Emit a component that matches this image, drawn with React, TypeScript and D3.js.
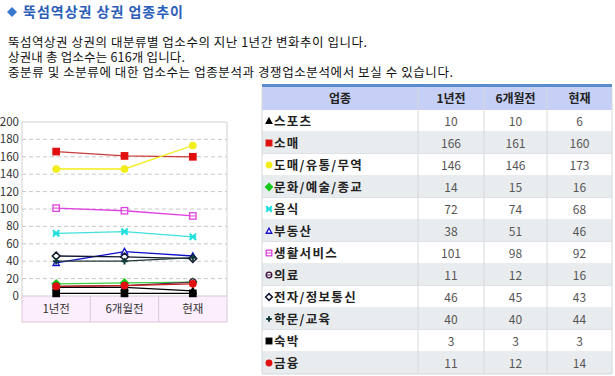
import { useEffect, useRef } from "react";
import * as d3 from "d3";

const periods = ["1년전", "6개월전", "현재"];
const categories = ["스포츠", "소매", "도매/유통/무역", "문화/예술/종교", "음식", "부동산", "생활서비스", "의료", "전자/정보통신", "학문/교육", "숙박", "금융"];
const sports = [10, 10, 6];
const retail = [166, 161, 160];
const wholesale = [146, 146, 173];
const culture = [14, 15, 16];
const food = [72, 74, 68];
const realty = [38, 51, 46];
const living = [101, 98, 92];
const medical = [11, 12, 16];
const electronics = [46, 45, 43];
const education = [40, 40, 44];
const lodging = [3, 3, 3];
const finance = [11, 12, 14];
const yTicks = [0, 20, 40, 60, 80, 100, 120, 140, 160, 180, 200];
const introLines = [
  "뚝섬역상권 상권의 대분류별 업소수의 지난 1년간 변화추이 입니다.",
  "상권내 총 업소수는 616개 입니다.",
  "중분류 및 소분류에 대한 업소수는 업종분석과 경쟁업소분석에서 보실 수 있습니다.",
];
const introWidths = [359, 177, 445];

const seriesValues = [sports, retail, wholesale, culture, food, realty, living, medical, electronics, education, lodging, finance];
const seriesStyle = [
  { color: "#000000", line: "#000000", shape: "tri" },
  { color: "#e01010", line: "#c83c3c", shape: "square" },
  { color: "#f2ee1a", line: "#f2ee1a", shape: "circle" },
  { color: "#18c818", line: "#40d040", shape: "diamond" },
  { color: "#20e0e0", line: "#40e0e0", shape: "x" },
  { color: "#1010c8", line: "#1010c8", shape: "triOpen" },
  { color: "#e040e0", line: "#e040e0", shape: "squareOpen" },
  { color: "#401040", line: "#503050", shape: "circleOpen" },
  { color: "#101830", line: "#101830", shape: "diamondOpen" },
  { color: "#103838", line: "#203838", shape: "plus" },
  { color: "#000000", line: "#000000", shape: "square" },
  { color: "#e01010", line: "#c82020", shape: "circle" },
];

const FONT = "'Noto Sans CJK KR', 'Noto Sans', sans-serif";

function drawMarker(g: any, shape: string, x: number, y: number, color: string, s: number) {
  if (shape === "tri" || shape === "triOpen") {
    g.append("path").attr("d", `M${x},${y - s}L${x + s},${y + s * 0.8}L${x - s},${y + s * 0.8}Z`)
      .attr("fill", shape === "tri" ? color : "#fff").attr("stroke", color).attr("stroke-width", 1.3);
  } else if (shape === "square" || shape === "squareOpen") {
    g.append("rect").attr("x", x - s).attr("y", y - s).attr("width", s * 2).attr("height", s * 2)
      .attr("fill", shape === "square" ? color : "#fff").attr("stroke", color).attr("stroke-width", 1.3);
    if (shape === "squareOpen") g.append("line").attr("x1", x - s).attr("x2", x + s).attr("y1", y).attr("y2", y).attr("stroke", color);
  } else if (shape === "circle" || shape === "circleOpen") {
    g.append("circle").attr("cx", x).attr("cy", y).attr("r", s)
      .attr("fill", shape === "circle" ? color : "#fff").attr("stroke", color).attr("stroke-width", 1.3);
    if (shape === "circleOpen") g.append("line").attr("x1", x - s).attr("x2", x + s).attr("y1", y).attr("y2", y).attr("stroke", color);
  } else if (shape === "diamond" || shape === "diamondOpen") {
    g.append("path").attr("d", `M${x},${y - s * 1.2}L${x + s * 1.2},${y}L${x},${y + s * 1.2}L${x - s * 1.2},${y}Z`)
      .attr("fill", shape === "diamond" ? color : "#fff").attr("stroke", color).attr("stroke-width", 1.5);
  } else if (shape === "x") {
    g.append("path").attr("d", `M${x - s},${y - s}L${x + s},${y + s}M${x + s},${y - s}L${x - s},${y + s}M${x - s},${y}L${x + s},${y}`)
      .attr("stroke", color).attr("stroke-width", 2);
  } else if (shape === "plus") {
    g.append("path").attr("d", `M${x - s},${y}L${x + s},${y}M${x},${y - s}L${x},${y + s}`)
      .attr("stroke", color).attr("stroke-width", 2);
  }
}

const App = () => {
  const svgRef = useRef<SVGSVGElement>(null);

  useEffect(() => {
    const svg = d3.select(svgRef.current);
    svg.selectAll("*").remove();
    svg.attr("width", 615).attr("height", 376).style("font-family", FONT);

    // title
    svg.append("path").attr("d", "M12,7L17,12L12,17L7,12Z").attr("fill", "#3a78d0");
    svg.append("text").attr("x", 23).attr("y", 17).attr("fill", "#2a5db8").style("font-size", "14px").style("font-weight", "bold")
      .attr("textLength", 160).attr("lengthAdjust", "spacing").text("뚝섬역상권 상권 업종추이");

    // intro paragraph as one multi-line text
    const intro = svg.append("text").attr("fill", "#111").style("font-size", "12.5px");
    introLines.forEach((t, i) => {
      intro.append("tspan").attr("x", 8).attr("y", 47 + i * 15)
        .attr("textLength", introWidths[i]).attr("lengthAdjust", "spacing").text(t);
    });

    // chart
    const left = 22, right = 227, top = 122, bottom = 296, bandBottom = 322;
    const x = d3.scaleBand().domain(periods).range([left, right]);
    const y = d3.scaleLinear().domain([0, 200]).range([bottom, top]);
    const c = svg.append("g");

    c.append("rect").attr("x", left).attr("y", bottom).attr("width", right - left).attr("height", bandBottom - bottom)
      .attr("fill", "#fdeefd").attr("stroke", "#d8c8d8");
    periods.forEach((p, i) => {
      if (i > 0) c.append("line").attr("x1", x(p)!).attr("x2", x(p)!).attr("y1", bottom).attr("y2", bandBottom).attr("stroke", "#d8c8d8");
      c.append("text").attr("x", x(p)! + x.bandwidth() / 2).attr("y", bottom + 17).attr("text-anchor", "middle")
        .attr("fill", "#333").style("font-size", "11.5px").text(p);
    });

    yTicks.forEach((t) => {
      if (t > 0 && t < 200) c.append("line").attr("x1", left).attr("x2", right).attr("y1", y(t)).attr("y2", y(t))
        .attr("stroke", "#c8c8c8").attr("stroke-dasharray", "4,3");
      c.append("text").attr("x", 19).attr("y", y(t) + 4).attr("text-anchor", "end").attr("fill", "#333").style("font-size", "11.5px").text(t);
    });
    c.append("line").attr("x1", left).attr("x2", right).attr("y1", top).attr("y2", top).attr("stroke", "#d0d0d0");
    c.append("line").attr("x1", right).attr("x2", right).attr("y1", top).attr("y2", bottom).attr("stroke", "#d0d0d0");
    c.append("line").attr("x1", left).attr("x2", left).attr("y1", top).attr("y2", bottom).attr("stroke", "#d0d0d0");

    const line = d3.line<number>().x((d, i) => x(periods[i])! + x.bandwidth() / 2).y((d) => y(d));
    seriesValues.forEach((vals, k) => {
      const st = seriesStyle[k];
      c.append("path").attr("d", line(vals)).attr("fill", "none").attr("stroke", st.line).attr("stroke-width", 1.3);
    });
    seriesValues.forEach((vals, k) => {
      const st = seriesStyle[k];
      vals.forEach((v, i) => drawMarker(c, st.shape, x(periods[i])! + x.bandwidth() / 2, y(v), st.color, 3.2));
    });

    // table
    const tLeft = 262, tRight = 612, headTop = 87, headH = 23, rowH = 22;
    const cols = [tLeft, 418, 484, 547, tRight];
    const t = svg.append("g");
    t.append("rect").attr("x", tLeft).attr("y", headTop - 3).attr("width", tRight - tLeft).attr("height", 3).attr("fill", "#5b8ccc");
    t.append("rect").attr("x", tLeft).attr("y", headTop).attr("width", tRight - tLeft).attr("height", headH).attr("fill", "#c6cff5");
    const headers = ["업종", ...periods];
    headers.forEach((h, i) => {
      t.append("text").attr("x", (cols[i] + cols[i + 1]) / 2).attr("y", headTop + 16).attr("text-anchor", "middle")
        .attr("fill", "#222").style("font-size", "12px").style("font-weight", "bold").text(h);
    });
    const rowTop = headTop + headH;
    categories.forEach((cat, r) => {
      const ry = rowTop + r * rowH;
      t.append("rect").attr("x", tLeft).attr("y", ry).attr("width", tRight - tLeft).attr("height", rowH)
        .attr("fill", r % 2 === 0 ? "#ffffff" : "#e9ecef");
      t.append("line").attr("x1", tLeft).attr("x2", tRight).attr("y1", ry + rowH).attr("y2", ry + rowH).attr("stroke", "#d4d8dc");
      const st = seriesStyle[r];
      drawMarker(t, st.shape, 269, ry + 11, st.color, 2.8);
      t.append("text").attr("x", 274).attr("y", ry + 16).attr("fill", "#222").style("font-size", "12.5px")
        .style("font-weight", "bold").style("letter-spacing", "1.3px").text(cat);
      seriesValues[r].forEach((v, i) => {
        t.append("text").attr("x", (cols[i + 1] + cols[i + 2]) / 2).attr("y", ry + 16).attr("text-anchor", "middle")
          .attr("fill", "#555").style("font-size", "12px").text(v);
      });
    });
    const tBottom = rowTop + categories.length * rowH;
    cols.forEach((cx) => {
      t.append("line").attr("x1", cx).attr("x2", cx).attr("y1", headTop).attr("y2", tBottom).attr("stroke", "#d4d8dc");
    });
  }, []);

  return <svg ref={svgRef} style={{ position: "absolute", left: 0, top: 0 }}></svg>;
};

export default App;
